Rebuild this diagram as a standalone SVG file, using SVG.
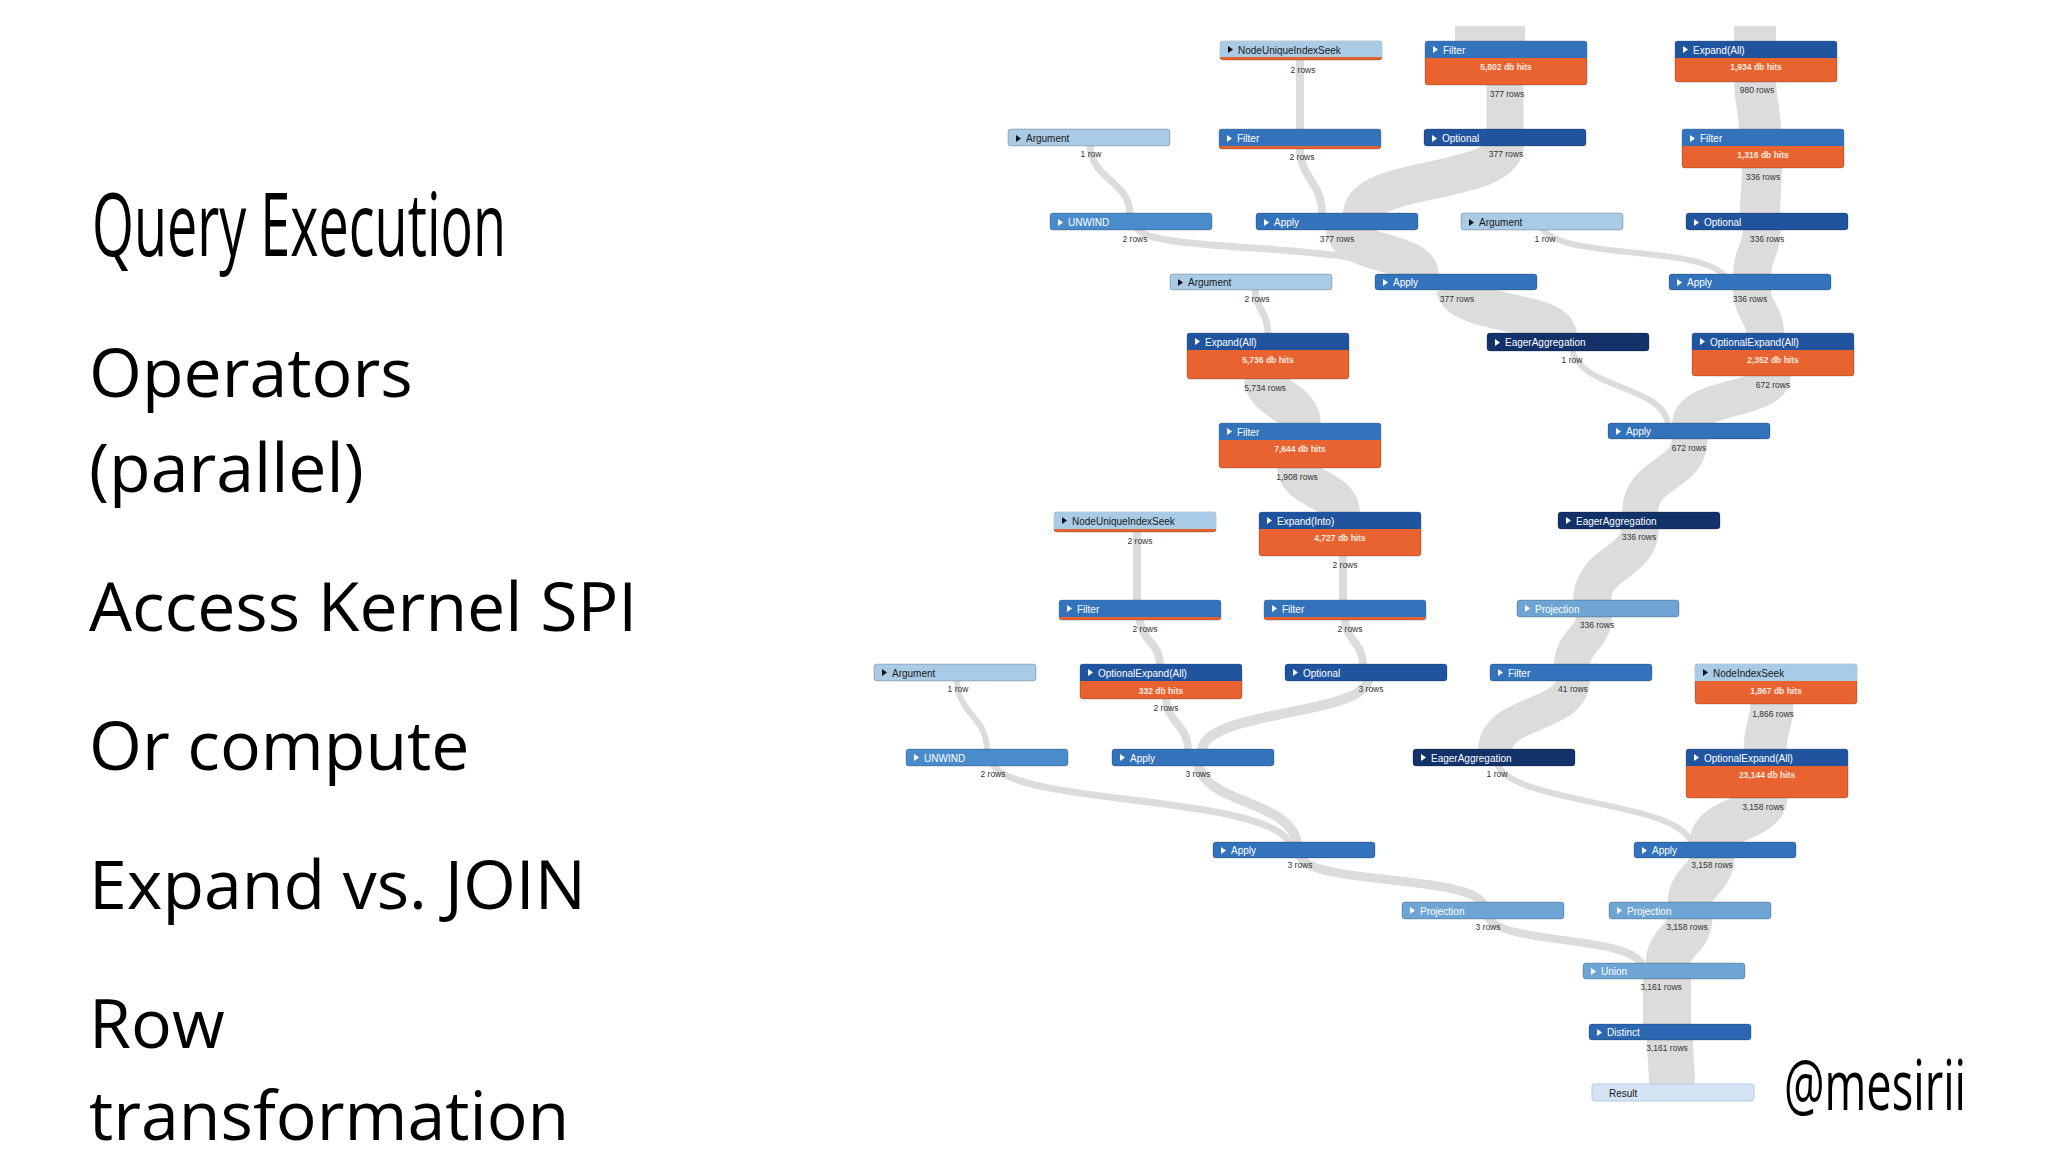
<svg xmlns="http://www.w3.org/2000/svg" width="2048" height="1152" viewBox="0 0 2048 1152">
<style>
.b{fill:none;stroke:#dcdcdc;stroke-linecap:butt}
.bx{stroke:rgba(0,0,0,0.22);stroke-width:1}
.light{fill:#a9cbe5}.proj{fill:#6ea5d5}.unw{fill:#4a8ccb}.med{fill:#3373bc}.dist{fill:#2c67b1}.dark{fill:#21549f}.navy{fill:#13326a}.res{fill:#d4e4f4;stroke:#b3cbe3;stroke-width:1}.or{fill:#e8632f}
.tw{fill:#fff}.tk{fill:#111}
.nm{font-family:"Liberation Sans",Arial,sans-serif;font-size:10px;fill:#fff}
.nk{fill:#1a1a1a}
.rows{font-family:"Liberation Sans",Arial,sans-serif;font-size:8.5px;fill:#333;text-anchor:middle}
.hits{font-family:"Liberation Sans",Arial,sans-serif;font-size:8.5px;font-weight:bold;fill:#ffe9e0;text-anchor:middle}
.body{font-family:"Open Sans","Noto Sans",sans-serif;font-size:68px;fill:#000}
.cond{font-family:"Open Sans","Noto Sans",sans-serif;font-weight:400;fill:#000}
</style>
<rect width="2048" height="1152" fill="#fff"/>
<g id="text">
<text class="cond" x="92" y="256" font-size="88" textLength="414" lengthAdjust="spacingAndGlyphs">Query Execution</text>
<text class="body" x="89" y="397">Operators</text>
<text class="body" x="89" y="492">(parallel)</text>
<text class="body" x="89" y="631">Access Kernel SPI</text>
<text class="body" x="89" y="770">Or compute</text>
<text class="body" x="89" y="909">Expand vs. JOIN</text>
<text class="body" x="89" y="1048">Row</text>
<text class="body" x="89" y="1140">transformation</text>
<text class="cond" x="1784" y="1110" font-size="70" textLength="182" lengthAdjust="spacingAndGlyphs">@mesirii</text>
</g>
<g id="connectors">
<path class="b" stroke-width="70" d="M1490 26 V43"/>
<path class="b" stroke-width="42" d="M1755 26 V43"/>
<path class="b" stroke-width="8" d="M1300 57 V131"/>
<path class="b" stroke-width="37" d="M1505 83 V131"/>
<path class="b" stroke-width="42" d="M1755 80 C1755 105,1760 105,1760 131"/>
<path class="b" stroke-width="40" d="M1762 166 C1762 190,1760 190,1760 215"/>
<path class="b" stroke-width="38" d="M1762 228 C1762 252,1752 252,1752 276"/>
<path class="b" stroke-width="7" d="M1090 144 C1090 180,1130 180,1130 215"/>
<path class="b" stroke-width="8" d="M1300 147 C1300 180,1322 180,1322 215"/>
<path class="b" stroke-width="38" d="M1505 144 C1505 185,1362 175,1362 215"/>
<path class="b" stroke-width="6" d="M1542 228 C1560 260,1700 245,1725 276"/>
<path class="b" stroke-width="7" d="M1137 228 C1150 255,1370 240,1400 276"/>
<path class="b" stroke-width="38" d="M1345 228 C1345 255,1420 250,1420 276"/>
<path class="b" stroke-width="38" d="M1455 288 C1460 315,1555 310,1558 335"/>
<path class="b" stroke-width="38" d="M1752 288 C1752 312,1765 312,1765 335"/>
<path class="b" stroke-width="6" d="M1572 349 C1580 390,1665 385,1668 425"/>
<path class="b" stroke-width="36" d="M1773 374 C1773 402,1690 395,1690 425"/>
<path class="b" stroke-width="36" d="M1690 437 C1690 478,1640 470,1640 514"/>
<path class="b" stroke-width="38" d="M1640 527 C1640 565,1592 560,1592 602"/>
<path class="b" stroke-width="36" d="M1594 615 C1594 640,1572 640,1572 666"/>
<path class="b" stroke-width="34" d="M1573 679 C1573 718,1495 710,1495 751"/>
<path class="b" stroke-width="6" d="M1497 763 C1510 805,1680 800,1692 844"/>
<path class="b" stroke-width="43" d="M1772 702 C1772 726,1765 726,1765 751"/>
<path class="b" stroke-width="45" d="M1765 796 C1765 820,1712 818,1712 844"/>
<path class="b" stroke-width="45" d="M1712 856 C1712 880,1690 880,1690 904"/>
<path class="b" stroke-width="45" d="M1690 917 C1690 940,1668 940,1668 965"/>
<path class="b" stroke-width="8" d="M1488 917 C1500 945,1630 935,1642 965"/>
<path class="b" stroke-width="48" d="M1667 977 V1026"/>
<path class="b" stroke-width="46" d="M1670 1038 C1670 1062,1672 1062,1672 1086"/>
<path class="b" stroke-width="9" d="M1300 856 C1310 885,1470 875,1483 904"/>
<path class="b" stroke-width="10" d="M1198 764 C1205 805,1292 800,1297 844"/>
<path class="b" stroke-width="7" d="M993 764 C1010 805,1270 795,1290 844"/>
<path class="b" stroke-width="10" d="M1368 679 C1368 715,1202 710,1202 751"/>
<path class="b" stroke-width="8" d="M1166 697 C1166 723,1188 723,1188 751"/>
<path class="b" stroke-width="6" d="M957 679 C957 715,987 715,987 751"/>
<path class="b" stroke-width="8" d="M1345 618 C1345 641,1363 641,1363 666"/>
<path class="b" stroke-width="8" d="M1140 618 C1140 641,1160 641,1160 666"/>
<path class="b" stroke-width="8" d="M1137 530 V602"/>
<path class="b" stroke-width="8" d="M1343 554 V602"/>
<path class="b" stroke-width="40" d="M1297 466 C1297 490,1340 488,1340 514"/>
<path class="b" stroke-width="42" d="M1265 377 C1265 400,1300 400,1300 425"/>
<path class="b" stroke-width="7" d="M1255 288 C1255 310,1268 310,1268 335"/>
</g>
<g id="n-nuis1"><rect class="or bx" x="1220" y="41" width="162" height="19" rx="3"/><path class="light" d="M1223 41h156a3 3 0 0 1 3 3v13h-162v-13a3 3 0 0 1 3-3z"/><path class="tk" d="M1228 46l5 3.5l-5 3.5z"/><text class="nm nk" x="1238" y="53.5">NodeUniqueIndexSeek</text><text class="rows" x="1303" y="73">2 rows</text></g>
<g id="n-filter1"><rect class="or bx" x="1425" y="41" width="162" height="44" rx="3"/><path class="med" d="M1428 41h156a3 3 0 0 1 3 3v14h-162v-14a3 3 0 0 1 3-3z"/><path class="tw" d="M1433 46l5 3.5l-5 3.5z"/><text class="nm" x="1443" y="53.5">Filter</text><text class="hits" x="1506" y="70">5,802 db hits</text><text class="rows" x="1507" y="97">377 rows</text></g>
<g id="n-expandall1"><rect class="or bx" x="1675" y="41" width="162" height="41" rx="3"/><path class="dark" d="M1678 41h156a3 3 0 0 1 3 3v14h-162v-14a3 3 0 0 1 3-3z"/><path class="tw" d="M1683 46l5 3.5l-5 3.5z"/><text class="nm" x="1693" y="53.5">Expand(All)</text><text class="hits" x="1756" y="70">1,934 db hits</text><text class="rows" x="1757" y="93">980 rows</text></g>
<g id="n-arg1"><rect class="light bx" x="1008" y="129" width="162" height="17" rx="3"/><path class="tk" d="M1016 135l5 3.5l-5 3.5z"/><text class="nm nk" x="1026" y="141.5">Argument</text><text class="rows" x="1091" y="157">1 row</text></g>
<g id="n-filter2"><rect class="or bx" x="1219" y="129" width="162" height="20" rx="3"/><path class="med" d="M1222 129h156a3 3 0 0 1 3 3v14h-162v-14a3 3 0 0 1 3-3z"/><path class="tw" d="M1227 135l5 3.5l-5 3.5z"/><text class="nm" x="1237" y="141.5">Filter</text><text class="rows" x="1302" y="160">2 rows</text></g>
<g id="n-optional1"><rect class="dark bx" x="1424" y="129" width="162" height="17" rx="3"/><path class="tw" d="M1432 135l5 3.5l-5 3.5z"/><text class="nm" x="1442" y="141.5">Optional</text><text class="rows" x="1506" y="157">377 rows</text></g>
<g id="n-filter3"><rect class="or bx" x="1682" y="129" width="162" height="39" rx="3"/><path class="med" d="M1685 129h156a3 3 0 0 1 3 3v14h-162v-14a3 3 0 0 1 3-3z"/><path class="tw" d="M1690 135l5 3.5l-5 3.5z"/><text class="nm" x="1700" y="141.5">Filter</text><text class="hits" x="1763" y="158">1,316 db hits</text><text class="rows" x="1763" y="180">336 rows</text></g>
<g id="n-unwind1"><rect class="unw bx" x="1050" y="213" width="162" height="17" rx="3"/><path class="tw" d="M1058 219l5 3.5l-5 3.5z"/><text class="nm" x="1068" y="225.5">UNWIND</text><text class="rows" x="1135" y="242">2 rows</text></g>
<g id="n-apply1"><rect class="med bx" x="1256" y="213" width="162" height="17" rx="3"/><path class="tw" d="M1264 219l5 3.5l-5 3.5z"/><text class="nm" x="1274" y="225.5">Apply</text><text class="rows" x="1337" y="242">377 rows</text></g>
<g id="n-arg2"><rect class="light bx" x="1461" y="213" width="162" height="17" rx="3"/><path class="tk" d="M1469 219l5 3.5l-5 3.5z"/><text class="nm nk" x="1479" y="225.5">Argument</text><text class="rows" x="1545" y="242">1 row</text></g>
<g id="n-optional2"><rect class="dark bx" x="1686" y="213" width="162" height="17" rx="3"/><path class="tw" d="M1694 219l5 3.5l-5 3.5z"/><text class="nm" x="1704" y="225.5">Optional</text><text class="rows" x="1767" y="242">336 rows</text></g>
<g id="n-arg3"><rect class="light bx" x="1170" y="274" width="162" height="16" rx="3"/><path class="tk" d="M1178 279l5 3.5l-5 3.5z"/><text class="nm nk" x="1188" y="286">Argument</text><text class="rows" x="1257" y="302">2 rows</text></g>
<g id="n-apply2"><rect class="med bx" x="1375" y="274" width="162" height="16" rx="3"/><path class="tw" d="M1383 279l5 3.5l-5 3.5z"/><text class="nm" x="1393" y="286">Apply</text><text class="rows" x="1457" y="302">377 rows</text></g>
<g id="n-apply3"><rect class="med bx" x="1669" y="274" width="162" height="16" rx="3"/><path class="tw" d="M1677 279l5 3.5l-5 3.5z"/><text class="nm" x="1687" y="286">Apply</text><text class="rows" x="1750" y="302">336 rows</text></g>
<g id="n-expandall2"><rect class="or bx" x="1187" y="333" width="162" height="46" rx="3"/><path class="dark" d="M1190 333h156a3 3 0 0 1 3 3v14h-162v-14a3 3 0 0 1 3-3z"/><path class="tw" d="M1195 338l5 3.5l-5 3.5z"/><text class="nm" x="1205" y="345.5">Expand(All)</text><text class="hits" x="1268" y="363">5,736 db hits</text><text class="rows" x="1265" y="391">5,734 rows</text></g>
<g id="n-eager1"><rect class="navy bx" x="1487" y="333" width="162" height="18" rx="3"/><path class="tw" d="M1495 339l5 3.5l-5 3.5z"/><text class="nm" x="1505" y="346">EagerAggregation</text><text class="rows" x="1572" y="363">1 row</text></g>
<g id="n-optexp1"><rect class="or bx" x="1692" y="333" width="162" height="43" rx="3"/><path class="dark" d="M1695 333h156a3 3 0 0 1 3 3v14h-162v-14a3 3 0 0 1 3-3z"/><path class="tw" d="M1700 338l5 3.5l-5 3.5z"/><text class="nm" x="1710" y="345.5">OptionalExpand(All)</text><text class="hits" x="1773" y="363">2,352 db hits</text><text class="rows" x="1773" y="388">672 rows</text></g>
<g id="n-filter4"><rect class="or bx" x="1219" y="423" width="162" height="45" rx="3"/><path class="med" d="M1222 423h156a3 3 0 0 1 3 3v14h-162v-14a3 3 0 0 1 3-3z"/><path class="tw" d="M1227 428l5 3.5l-5 3.5z"/><text class="nm" x="1237" y="435.5">Filter</text><text class="hits" x="1300" y="452">7,644 db hits</text><text class="rows" x="1297" y="480">1,908 rows</text></g>
<g id="n-apply4"><rect class="med bx" x="1608" y="423" width="162" height="16" rx="3"/><path class="tw" d="M1616 428l5 3.5l-5 3.5z"/><text class="nm" x="1626" y="435">Apply</text><text class="rows" x="1689" y="451">672 rows</text></g>
<g id="n-nuis2"><rect class="or bx" x="1054" y="512" width="162" height="20" rx="3"/><path class="light" d="M1057 512h156a3 3 0 0 1 3 3v14h-162v-14a3 3 0 0 1 3-3z"/><path class="tk" d="M1062 517l5 3.5l-5 3.5z"/><text class="nm nk" x="1072" y="524.5">NodeUniqueIndexSeek</text><text class="rows" x="1140" y="544">2 rows</text></g>
<g id="n-expandinto"><rect class="or bx" x="1259" y="512" width="162" height="44" rx="3"/><path class="dark" d="M1262 512h156a3 3 0 0 1 3 3v14h-162v-14a3 3 0 0 1 3-3z"/><path class="tw" d="M1267 517l5 3.5l-5 3.5z"/><text class="nm" x="1277" y="524.5">Expand(Into)</text><text class="hits" x="1340" y="541">4,727 db hits</text><text class="rows" x="1345" y="568">2 rows</text></g>
<g id="n-eager2"><rect class="navy bx" x="1558" y="512" width="162" height="17" rx="3"/><path class="tw" d="M1566 517l5 3.5l-5 3.5z"/><text class="nm" x="1576" y="524.5">EagerAggregation</text><text class="rows" x="1639" y="540">336 rows</text></g>
<g id="n-filter5"><rect class="or bx" x="1059" y="600" width="162" height="20" rx="3"/><path class="med" d="M1062 600h156a3 3 0 0 1 3 3v14h-162v-14a3 3 0 0 1 3-3z"/><path class="tw" d="M1067 605l5 3.5l-5 3.5z"/><text class="nm" x="1077" y="612.5">Filter</text><text class="rows" x="1145" y="632">2 rows</text></g>
<g id="n-filter6"><rect class="or bx" x="1264" y="600" width="162" height="20" rx="3"/><path class="med" d="M1267 600h156a3 3 0 0 1 3 3v14h-162v-14a3 3 0 0 1 3-3z"/><path class="tw" d="M1272 605l5 3.5l-5 3.5z"/><text class="nm" x="1282" y="612.5">Filter</text><text class="rows" x="1350" y="632">2 rows</text></g>
<g id="n-projection1"><rect class="proj bx" x="1517" y="600" width="162" height="17" rx="3"/><path class="tw" d="M1525 605l5 3.5l-5 3.5z"/><text class="nm" x="1535" y="612.5">Projection</text><text class="rows" x="1597" y="628">336 rows</text></g>
<g id="n-arg4"><rect class="light bx" x="874" y="664" width="162" height="17" rx="3"/><path class="tk" d="M882 669l5 3.5l-5 3.5z"/><text class="nm nk" x="892" y="676.5">Argument</text><text class="rows" x="958" y="692">1 row</text></g>
<g id="n-optexp2"><rect class="or bx" x="1080" y="664" width="162" height="35" rx="3"/><path class="dark" d="M1083 664h156a3 3 0 0 1 3 3v14h-162v-14a3 3 0 0 1 3-3z"/><path class="tw" d="M1088 669l5 3.5l-5 3.5z"/><text class="nm" x="1098" y="676.5">OptionalExpand(All)</text><text class="hits" x="1161" y="694">332 db hits</text><text class="rows" x="1166" y="711">2 rows</text></g>
<g id="n-optional3"><rect class="dark bx" x="1285" y="664" width="162" height="17" rx="3"/><path class="tw" d="M1293 669l5 3.5l-5 3.5z"/><text class="nm" x="1303" y="676.5">Optional</text><text class="rows" x="1371" y="692">3 rows</text></g>
<g id="n-filter7"><rect class="med bx" x="1490" y="664" width="162" height="17" rx="3"/><path class="tw" d="M1498 669l5 3.5l-5 3.5z"/><text class="nm" x="1508" y="676.5">Filter</text><text class="rows" x="1573" y="692">41 rows</text></g>
<g id="n-nodeindexseek"><rect class="or bx" x="1695" y="664" width="162" height="40" rx="3"/><path class="light" d="M1698 664h156a3 3 0 0 1 3 3v14h-162v-14a3 3 0 0 1 3-3z"/><path class="tk" d="M1703 669l5 3.5l-5 3.5z"/><text class="nm nk" x="1713" y="676.5">NodeIndexSeek</text><text class="hits" x="1776" y="694">1,867 db hits</text><text class="rows" x="1773" y="717">1,866 rows</text></g>
<g id="n-unwind2"><rect class="unw bx" x="906" y="749" width="162" height="17" rx="3"/><path class="tw" d="M914 754l5 3.5l-5 3.5z"/><text class="nm" x="924" y="761.5">UNWIND</text><text class="rows" x="993" y="777">2 rows</text></g>
<g id="n-apply5"><rect class="med bx" x="1112" y="749" width="162" height="17" rx="3"/><path class="tw" d="M1120 754l5 3.5l-5 3.5z"/><text class="nm" x="1130" y="761.5">Apply</text><text class="rows" x="1198" y="777">3 rows</text></g>
<g id="n-eager3"><rect class="navy bx" x="1413" y="749" width="162" height="17" rx="3"/><path class="tw" d="M1421 754l5 3.5l-5 3.5z"/><text class="nm" x="1431" y="761.5">EagerAggregation</text><text class="rows" x="1497" y="777">1 row</text></g>
<g id="n-optexp3"><rect class="or bx" x="1686" y="749" width="162" height="49" rx="3"/><path class="dark" d="M1689 749h156a3 3 0 0 1 3 3v14h-162v-14a3 3 0 0 1 3-3z"/><path class="tw" d="M1694 754l5 3.5l-5 3.5z"/><text class="nm" x="1704" y="761.5">OptionalExpand(All)</text><text class="hits" x="1767" y="778">23,144 db hits</text><text class="rows" x="1763" y="810">3,158 rows</text></g>
<g id="n-apply6"><rect class="med bx" x="1213" y="842" width="162" height="16" rx="3"/><path class="tw" d="M1221 847l5 3.5l-5 3.5z"/><text class="nm" x="1231" y="854">Apply</text><text class="rows" x="1300" y="868">3 rows</text></g>
<g id="n-apply7"><rect class="med bx" x="1634" y="842" width="162" height="16" rx="3"/><path class="tw" d="M1642 847l5 3.5l-5 3.5z"/><text class="nm" x="1652" y="854">Apply</text><text class="rows" x="1712" y="868">3,158 rows</text></g>
<g id="n-projection2"><rect class="proj bx" x="1402" y="902" width="162" height="17" rx="3"/><path class="tw" d="M1410 907l5 3.5l-5 3.5z"/><text class="nm" x="1420" y="914.5">Projection</text><text class="rows" x="1488" y="930">3 rows</text></g>
<g id="n-projection3"><rect class="proj bx" x="1609" y="902" width="162" height="17" rx="3"/><path class="tw" d="M1617 907l5 3.5l-5 3.5z"/><text class="nm" x="1627" y="914.5">Projection</text><text class="rows" x="1687" y="930">3,158 rows</text></g>
<g id="n-union"><rect class="proj bx" x="1583" y="963" width="162" height="16" rx="3"/><path class="tw" d="M1591 968l5 3.5l-5 3.5z"/><text class="nm" x="1601" y="975">Union</text><text class="rows" x="1661" y="990">3,161 rows</text></g>
<g id="n-distinct"><rect class="dist bx" x="1589" y="1024" width="162" height="16" rx="3"/><path class="tw" d="M1597 1029l5 3.5l-5 3.5z"/><text class="nm" x="1607" y="1036">Distinct</text><text class="rows" x="1667" y="1051">3,161 rows</text></g>
<g id="n-result"><rect class="res" x="1592" y="1084" width="162" height="17" rx="3"/><text class="nm nk" x="1609" y="1096.5">Result</text></g>
</svg>
